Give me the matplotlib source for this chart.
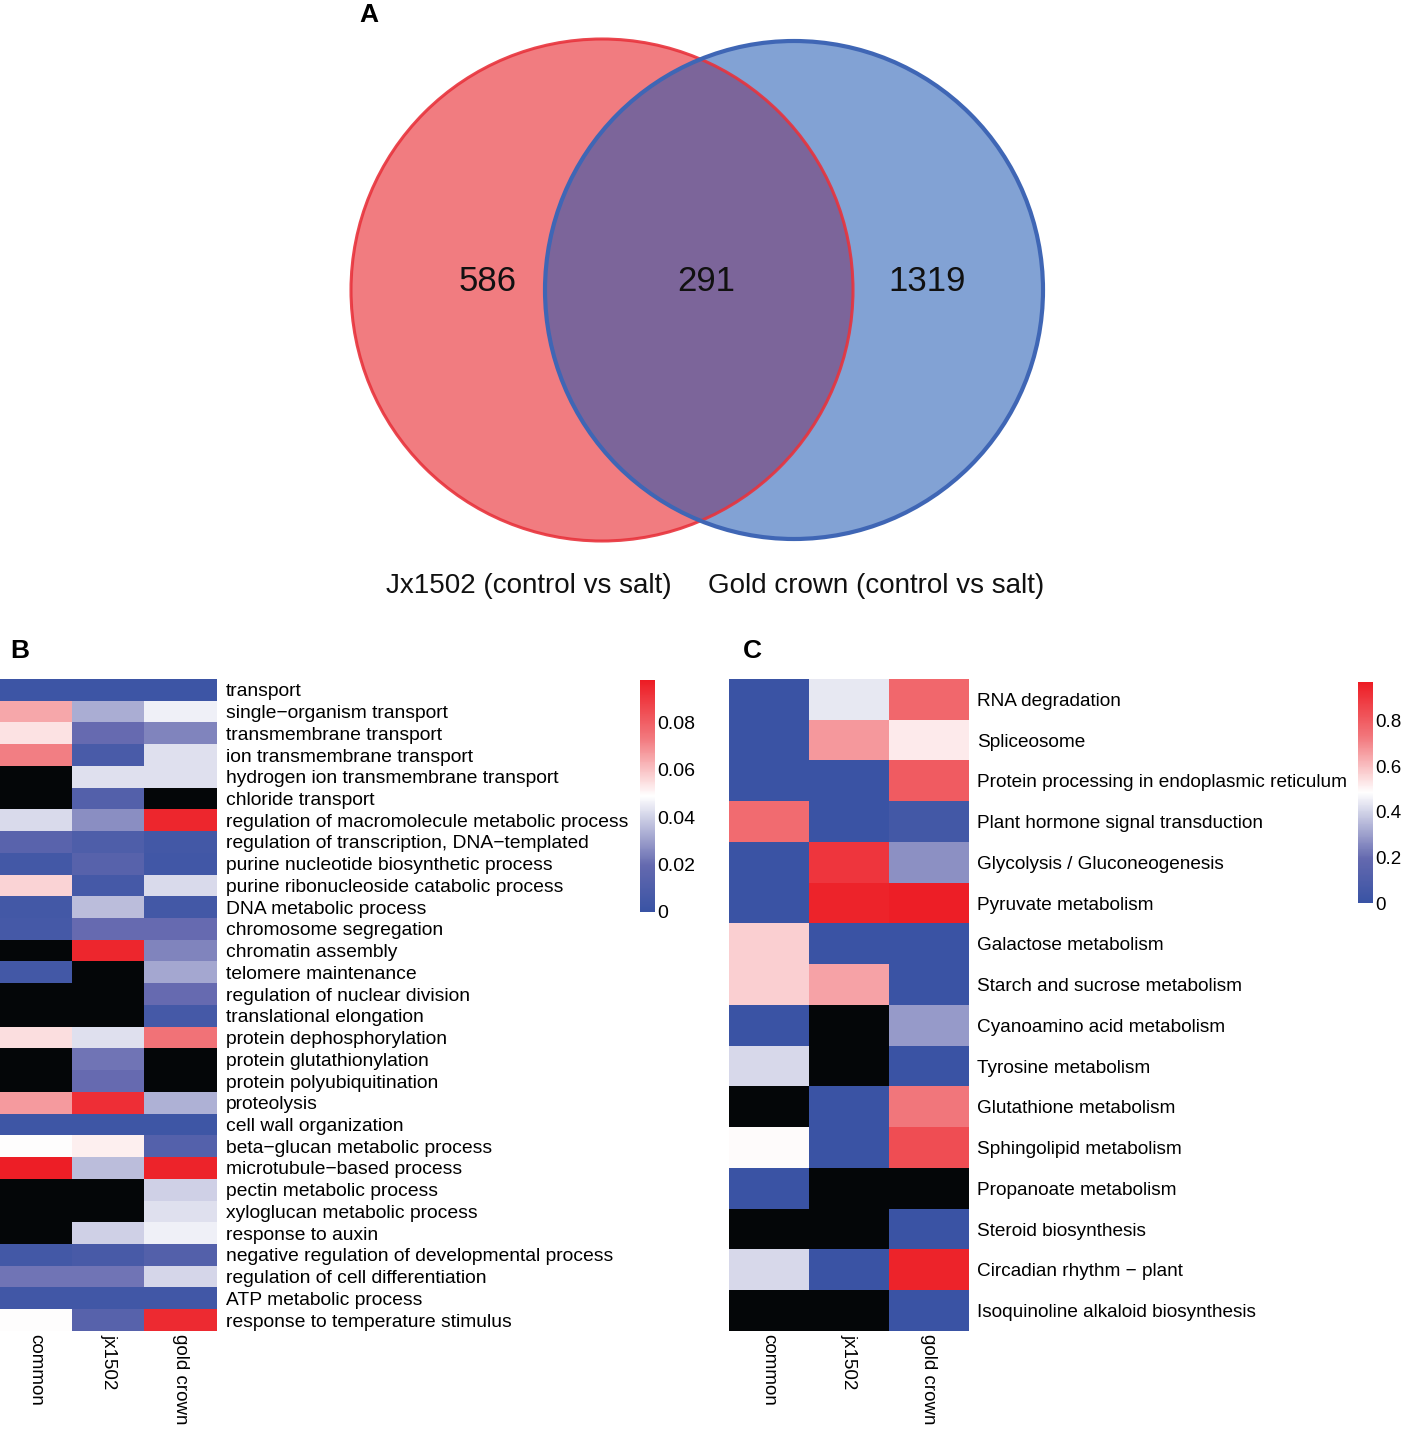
import numpy as np
import matplotlib
matplotlib.use("Agg")
import matplotlib.pyplot as plt
from matplotlib.colors import LinearSegmentedColormap
from matplotlib.patches import Circle

plt.rcParams['font.family'] = ['Liberation Sans', 'DejaVu Sans']

nan = np.nan

# ---------------- Data ----------------
venn_sets = ["Jx1502 (control vs salt)", "Gold crown (control vs salt)"]
venn_counts = [586, 291, 1319]  # only Jx1502, common, only Gold crown

columns = ["common", "jx1502", "gold crown"]

go_terms = [
    "transport", "single\u2212organism transport", "transmembrane transport",
    "ion transmembrane transport", "hydrogen ion transmembrane transport",
    "chloride transport", "regulation of macromolecule metabolic process",
    "regulation of transcription, DNA\u2212templated",
    "purine nucleotide biosynthetic process",
    "purine ribonucleoside catabolic process", "DNA metabolic process",
    "chromosome segregation", "chromatin assembly", "telomere maintenance",
    "regulation of nuclear division", "translational elongation",
    "protein dephosphorylation", "protein glutathionylation",
    "protein polyubiquitination", "proteolysis", "cell wall organization",
    "beta\u2212glucan metabolic process", "microtubule\u2212based process",
    "pectin metabolic process", "xyloglucan metabolic process",
    "response to auxin", "negative regulation of developmental process",
    "regulation of cell differentiation", "ATP metabolic process",
    "response to temperature stimulus",
]
go_common = [0.002, 0.065, 0.054, 0.072, nan, nan, 0.042, 0.015, 0.005, 0.057,
             0.005, 0.006, nan, 0.005, nan, nan, 0.055, nan, nan, 0.067,
             0.003, 0.049, 0.097, nan, nan, nan, 0.005, 0.022, 0.004, 0.049]
go_jx1502 = [0.002, 0.033, 0.020, 0.008, 0.043, 0.012, 0.027, 0.010, 0.014, 0.006,
             0.036, 0.020, 0.095, nan, nan, nan, 0.043, 0.022, 0.020, 0.093,
             0.003, 0.052, 0.036, nan, nan, 0.040, 0.007, 0.022, 0.004, 0.014]
go_gold = [0.002, 0.046, 0.025, 0.043, 0.043, nan, 0.095, 0.005, 0.004, 0.042,
           0.005, 0.020, 0.025, 0.032, 0.020, 0.006, 0.075, nan, nan, 0.034,
           0.003, 0.013, 0.096, 0.040, 0.043, 0.046, 0.012, 0.041, 0.004, 0.094]
go_vmax = 0.098
go_ticks = [0, 0.02, 0.04, 0.06, 0.08]
go_ticklabels = ["0", "0.02", "0.04", "0.06", "0.08"]

kegg_terms = [
    "RNA degradation", "Spliceosome", "Protein processing in endoplasmic reticulum",
    "Plant hormone signal transduction", "Glycolysis / Gluconeogenesis",
    "Pyruvate metabolism", "Galactose metabolism", "Starch and sucrose metabolism",
    "Cyanoamino acid metabolism", "Tyrosine metabolism", "Glutathione metabolism",
    "Sphingolipid metabolism", "Propanoate metabolism", "Steroid biosynthesis",
    "Circadian rhythm \u2212 plant", "Isoquinoline alkaloid biosynthesis",
]
kegg_common = [0.01, 0.01, 0.01, 0.76, 0.01, 0.01, 0.57, 0.57,
               0.01, 0.41, nan, 0.49, 0.01, nan, 0.41, nan]
kegg_jx1502 = [0.44, 0.67, 0.01, 0.01, 0.90, 0.95, 0.01, 0.65,
               nan, nan, 0.01, 0.01, nan, nan, 0.01, nan]
kegg_gold = [0.77, 0.52, 0.80, 0.05, 0.27, 0.96, 0.01, 0.01,
             0.29, 0.01, 0.73, 0.84, nan, 0.01, 0.95, 0.01]
kegg_vmax = 0.97
kegg_ticks = [0, 0.2, 0.4, 0.6, 0.8]
kegg_ticklabels = ["0", "0.2", "0.4", "0.6", "0.8"]

# ---------------- Figure ----------------
W, H = 1402, 1429
fig = plt.figure(figsize=(W / 100, H / 100), dpi=100)

def px_axes(x0, y0, x1, y1):
    return fig.add_axes([x0 / W, 1 - y1 / H, (x1 - x0) / W, (y1 - y0) / H])

# Background axes in pixel coordinates for Venn and panel letters
bg = fig.add_axes([0, 0, 1, 1])
bg.set_xlim(0, W)
bg.set_ylim(H, 0)
bg.axis("off")

red_face = (232 / 255, 30 / 255, 37 / 255)
blue_face = (25 / 255, 83 / 255, 177 / 255)
red_edge = "#E8333C"
blue_edge = "#3F66B5"

c1 = Circle((602, 290), 251, facecolor=red_face, alpha=0.58, edgecolor="none")
c2 = Circle((794, 290), 249, facecolor=blue_face, alpha=0.54, edgecolor="none")
bg.add_patch(c1)
bg.add_patch(c2)
bg.add_patch(Circle((602, 290), 251, facecolor="none", edgecolor=red_edge, lw=2.2, alpha=0.9))
bg.add_patch(Circle((794, 290), 249, facecolor="none", edgecolor=blue_edge, lw=3.0))

num_pos = [(488, 281), (706, 281), (927, 281)]
for (x, y), n in zip(num_pos, venn_counts):
    bg.text(x, y, str(n), fontsize=25, ha="center", va="center", color="#111111")
bg.text(529, 586, venn_sets[0], fontsize=20, ha="center", va="center", color="#111111")
bg.text(876, 586, venn_sets[1], fontsize=20, ha="center", va="center", color="#111111")

bg.text(369, 15, "A", fontsize=19, fontweight="bold", ha="center", va="center")
bg.text(20, 651, "B", fontsize=19, fontweight="bold", ha="center", va="center")
bg.text(752, 651, "C", fontsize=19, fontweight="bold", ha="center", va="center")

def rgb(r, g, b):
    return (r / 255, g / 255, b / 255)

cmap = LinearSegmentedColormap.from_list(
    "bwr_custom",
    [(0.0, rgb(57, 83, 164)), (0.2, rgb(100, 105, 175)), (0.5, rgb(255, 255, 255)),
     (0.75, rgb(242, 120, 125)), (1.0, rgb(237, 28, 36))])
cmap.set_bad("#040608")


def heatmap(box, cbar_box, terms, cols, vmax, ticks, ticklabels, fs, xfs, pad, cfs):
    data = np.ma.masked_invalid(np.column_stack(cols))
    ax = px_axes(*box)
    im = ax.imshow(data, cmap=cmap, vmin=0, vmax=vmax, aspect="auto",
                   interpolation="nearest")
    ax.set_xticks(range(len(columns)))
    ax.set_xticklabels(columns, rotation=270, fontsize=xfs, va="top", ha="center")
    ax.set_yticks(range(len(terms)))
    ax.set_yticklabels(terms, fontsize=fs)
    ax.yaxis.tick_right()
    ax.tick_params(length=0, pad=pad)
    ax.tick_params(axis="x", pad=2)
    for s in ax.spines.values():
        s.set_visible(False)
    cax = px_axes(*cbar_box)
    cb = fig.colorbar(im, cax=cax)
    cb.set_ticks(ticks)
    cb.set_ticklabels(ticklabels)
    cb.ax.tick_params(length=0, labelsize=cfs, pad=1.5)
    cb.outline.set_visible(False)
    return ax


heatmap((0, 679, 217, 1331), (640, 680, 655, 912), go_terms,
        [go_common, go_jx1502, go_gold], go_vmax, go_ticks, go_ticklabels,
        13.85, 13.5, 6.5, 14)
heatmap((729, 679, 969, 1331), (1358, 682, 1373, 903), kegg_terms,
        [kegg_common, kegg_jx1502, kegg_gold], kegg_vmax, kegg_ticks, kegg_ticklabels,
        13.7, 13.5, 6, 13.5)

fig.savefig("out.png", dpi=100)
